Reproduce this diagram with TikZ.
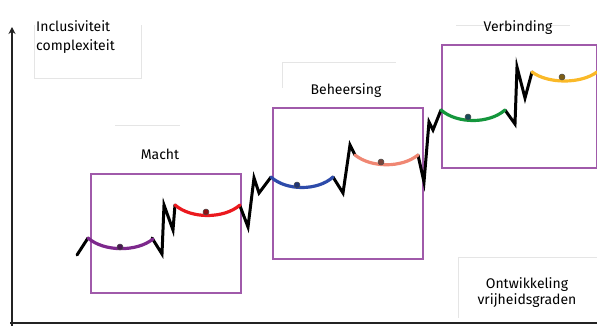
\documentclass[tikz,border=0pt]{standalone}
\usepackage{fontspec}
\setmainfont{Fira Sans}
\usetikzlibrary{arrows.meta}
\definecolor{boxpurple}{RGB}{160,90,170}
\definecolor{cpurple}{RGB}{125,40,140}
\definecolor{cred}{RGB}{235,25,30}
\definecolor{cblue}{RGB}{45,75,170}
\definecolor{csalmon}{RGB}{240,135,115}
\definecolor{cgreen}{RGB}{20,150,60}
\definecolor{cyellow}{RGB}{250,185,40}
\definecolor{axiscol}{RGB}{35,35,35}
\tikzset{
  stagebox/.style={draw=boxpurple, line width=2pt},
  zig/.style={draw=black, line width=3pt, line join=miter, line cap=round},
  arcline/.style={line width=3.2pt, line cap=round},
  dotmark/.style={circle, fill=#1, draw=black!70, line width=0.5pt, inner sep=0pt, minimum size=6pt},
  lbl/.style={font=\fontsize{14}{19}\selectfont, inner sep=0pt},
  faint/.style={draw=black!10, line width=0.6pt},
  axisline/.style={draw=axiscol, line width=2.6pt}
}
\begin{document}
\begin{tikzpicture}[x=1pt,y=-1pt]
\useasboundingbox (0,0) rectangle (597,326);
% axes
\coordinate (yb) at (12,326);
\coordinate (yt) at (12,27);
\coordinate (xl) at (10,323);
\coordinate (xr) at (597,323);
\draw[axisline, -{Stealth[length=7pt,width=7pt]}] (yb) -- (yt);
\draw[axisline] (xl) -- (xr);
% faint text boxes
\draw[faint] (34,25) -- (34,78) -- (141,78) -- (141,25);
\draw[faint] (115,125) -- (180,125);
\draw[faint] (282,62) -- (396,62);
\draw[faint] (282,62) -- (282,88);
\draw[faint] (456,25) -- (570,25);
\draw[faint] (458,318) -- (458,257) -- (597,257);
% stage boxes
\node[stagebox, minimum width=150pt, minimum height=119pt, anchor=north west, inner sep=0pt] (b1) at (90,173) {};
\node[stagebox, minimum width=150pt, minimum height=151pt, anchor=north west, inner sep=0pt] (b2) at (272,107) {};
\node[stagebox, minimum width=155pt, minimum height=123pt, anchor=north west, inner sep=0pt] (b3) at (441,44) {};
% labels (base anchor = last line's baseline)
\node[lbl, anchor=base west, align=left] (ylab) at (36,51) {Inclusiviteit\\complexiteit};
\node[lbl, anchor=base] (macht) at (160,160) {Macht};
\node[lbl, anchor=base] (beh) at (346,95) {Beheersing};
\node[lbl, anchor=base] (verb) at (518,32) {Verbinding};
\node[lbl, anchor=base, align=center, font=\fontsize{14}{16}\selectfont] (xlab) at (527,304) {Ontwikkeling\\vrijheidsgraden};
% curve: black zigzags
\draw[zig] (77,255) -- (88,238);
\draw[zig] (152,238) -- (162,254) -- (164,205) -- (173,230) -- (175,205);
\draw[zig] (240,206) -- (248,227) -- (254,178) -- (259,193) -- (271,177);
\draw[zig] (333,177) -- (343,193) -- (350,145) -- (355,155);
\draw[zig] (418,155) -- (424,182) -- (429,122) -- (433,130) -- (441,110);
\draw[zig] (505,110) -- (515,124) -- (517,67) -- (525,98) -- (532,72);
% coloured arcs
\draw[arcline, cpurple] (88,238) .. controls (104,252) and (137,252) .. (153,239);
\draw[arcline, cred] (175,205) .. controls (191,219) and (224,219) .. (240,205);
\draw[arcline, cblue] (271,177) .. controls (286,191) and (318,191) .. (333,177);
\draw[arcline, csalmon] (355,155) .. controls (371,168) and (402,168) .. (418,155);
\draw[arcline, cgreen] (441,110) .. controls (457,124) and (489,124) .. (505,110);
\draw[arcline, cyellow] (532,72) .. controls (548,84) and (581,84) .. (597,72);
% dots
\node[dotmark=cpurple!60!black] (d1) at (120,247) {};
\node[dotmark=cred!60!black] (d2) at (206,212) {};
\node[dotmark=cblue!70!black] (d3) at (297,185) {};
\node[dotmark=csalmon!50!black] (d4) at (381,162) {};
\node[dotmark=cgreen!40!cblue!70!black] (d5) at (468,117) {};
\node[dotmark=cyellow!50!black] (d6) at (562,77) {};
\end{tikzpicture}
\end{document}
